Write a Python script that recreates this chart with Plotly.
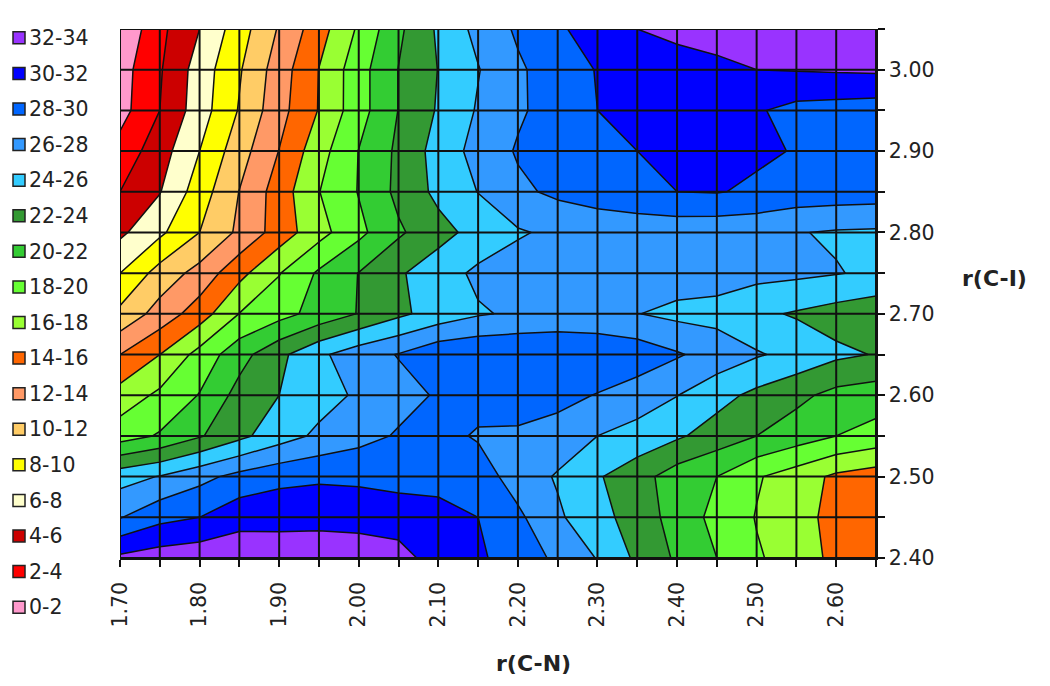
import plotly.graph_objects as go

W, H = 1050, 686

x_vals = [1.70, 1.75, 1.80, 1.85, 1.90, 1.95, 2.00, 2.05, 2.10, 2.15,
          2.20, 2.25, 2.30, 2.35, 2.40, 2.45, 2.50, 2.55, 2.60, 2.65]
y_vals = [2.40, 2.45, 2.50, 2.55, 2.60, 2.65, 2.70, 2.75, 2.80, 2.85, 2.90, 2.95, 3.00, 3.05]

z_240 = [32.4,33.0,33.3,33.3,33.1,33.4,33.7,33.1,30.7,30.3,29.1,27.6,25.9,23.6,21.7,20.0,18.2,17.2,15.4,15.3]
z_245 = [27.9,29.4,30.0,31.3,31.4,31.3,30.9,30.6,30.3,30.0,28.4,26.3,24.7,23.1,21.2,19.4,17.9,16.7,15.4,15.3]
z_250 = [25.2,26.1,27.4,28.6,29.4,29.7,29.7,29.6,29.7,29.0,27.1,25.8,24.2,22.8,21.0,20.0,18.2,17.0,15.6,15.0]
z_255 = [19.1,20.2,21.8,23.5,25.1,26.4,27.3,28.2,28.6,27.8,27.7,27.2,26.0,25.3,24.3,23.1,22.0,21.0,20.0,19.25]
z_260 = [16.8,18.4,20.1,22.7,24.0,25.2,26.3,27.3,28.2,28.7,28.9,28.6,27.9,27.0,26.05,24.7,23.5,22.5,21.4,21.0]
z_265 = [14.0,16.0,18.7,21.25,23.5,25.6,27.1,28.1,29.5,29.8,29.8,29.8,29.6,29.2,28.2,27.2,26.2,25.4,24.4,23.9]
z_270 = [10.5,12.8,15.0,18.05,19.3,20.7,22.1,23.6,24.8,25.8,26.3,26.6,26.5,26.05,25.5,25.3,24.4,23.8,23.2,22.7]
z_275 = [8.0,10.8,12.7,15.4,17.9,20.3,22.05,23.75,25.1,26.4,26.9,27.0,27.0,27.0,27.0,26.9,26.6,26.4,26.1,25.66]
z_280 = [5.6,7.6,10.0,12.4,14.9,17.3,19.5,21.7,23.3,24.7,25.8,26.4,26.6,26.7,26.7,26.6,26.5,26.1,25.8,25.7]
z_285 = [4.0,5.9,9.0,12.05,14.95,17.95,20.1,22.5,24.5,26.05,27.6,28.4,29.0,29.5,30.0,30.1,29.7,29.2,29.1,29.0]
z_290 = [2.74,5.1,8.0,11.15,14.05,17.2,20.05,22.4,24.8,26.7,28.2,28.7,29.4,30.0,30.6,30.7,30.3,29.9,29.3,29.2]
z_295 = [1.24,4.0,7.05,10.15,13.3,16.1,19.2,22.05,24.2,26.2,27.7,28.9,30.0,30.3,30.5,30.5,30.2,29.4,29.2,29.0]
z_300 = [1.13,3.8,6.9,9.8,13.0,16.05,19.2,22.05,24.05,25.9,27.7,29.0,30.1,30.6,31.0,31.5,32.0,32.1,32.2,32.3]
z_305 = [0.2,3.5,6.0,9.1,12.2,15.15,18.3,21.6,24.3,26.6,28.3,29.7,30.9,32.0,32.6,32.9,33.0,33.2,33.3,33.3]

band_labels = ["0-2", "2-4", "4-6", "6-8", "8-10", "10-12", "12-14", "14-16", "16-18",
               "18-20", "20-22", "22-24", "24-26", "26-28", "28-30", "30-32", "32-34"]
band_colors = ["#FF99CC", "#FF0000", "#CC0000", "#FFFFCC", "#FFFF00", "#FFCC66", "#FF9966", "#FF6600", "#99FF33",
               "#66FF33", "#33CC33", "#339933", "#33CCFF", "#3399FF", "#0066FF", "#0000FF", "#9933FF"]

x_ticktext = ["1.70", "", "1.80", "", "1.90", "", "2.00", "", "2.10", "",
              "2.20", "", "2.30", "", "2.40", "", "2.50", "", "2.60", ""]
y_ticktext = ["2.40", "", "2.50", "", "2.60", "", "2.70", "", "2.80", "", "2.90", "", "3.00", ""]

z = [z_240, z_245, z_250, z_255, z_260, z_265, z_270, z_275, z_280, z_285, z_290, z_295, z_300, z_305]

FONT = "DejaVu Sans"
INK = "#222222"

fig = go.Figure()

n = len(band_colors) - 1
fig.add_trace(go.Contour(
    x=x_vals, y=y_vals, z=z,
    contours=dict(start=2, end=32, size=2, coloring="fill", showlines=True),
    colorscale=[[i / n, c] for i, c in enumerate(band_colors)],
    line=dict(color="#111111", width=1.5, smoothing=0),
    showscale=False, hoverinfo="skip",
))

# grid drawn on top of the filled contours, as in the reference
gx, gy = [], []
for xv in x_vals:
    gx += [xv, xv, None]
    gy += [y_vals[0], y_vals[-1], None]
for yv in y_vals:
    gx += [x_vals[0], x_vals[-1], None]
    gy += [yv, yv, None]
fig.add_trace(go.Scatter(x=gx, y=gy, mode="lines", line=dict(color="#111111", width=2),
                         hoverinfo="skip", showlegend=False, cliponaxis=False))

# key at the left
fig.add_trace(go.Scatter(
    x=[0] * len(band_labels), y=band_labels, mode="markers", xaxis="x2", yaxis="y2",
    marker=dict(symbol="square", size=12, color=band_colors, line=dict(color="#222222", width=1.5)),
    hoverinfo="skip", showlegend=False,
))

# the page body adds an 8 px margin around the figure
px = lambda v: (v - 8) / W
py = lambda v: 1 - (v - 8) / H

fig.update_layout(
    width=W, height=H, autosize=False,
    margin=dict(l=0, r=0, t=0, b=0, autoexpand=False),
    paper_bgcolor="white", plot_bgcolor="white",
    font=dict(family=FONT, color=INK, size=20),
    xaxis=dict(domain=[px(120), px(876)], range=[1.70, 2.65], anchor="y",
               tickmode="array", tickvals=x_vals, ticktext=x_ticktext,
               tickangle=-90, ticks="outside", ticklen=7, tickwidth=1.5, tickcolor="#111111",
               ticklabelstandoff=7,
               tickfont=dict(size=20.5), showgrid=False, zeroline=False,
               showline=True, linecolor="#111111", linewidth=1.5),
    yaxis=dict(domain=[py(558), py(29)], range=[2.40, 3.05], anchor="x", side="right",
               tickmode="array", tickvals=y_vals, ticktext=y_ticktext,
               ticks="outside", ticklen=7, tickwidth=1.5, tickcolor="#111111",
               tickfont=dict(size=20.5), showgrid=False, zeroline=False,
               showline=True, linecolor="#111111", linewidth=1.5),
    xaxis2=dict(domain=[px(10), px(28)], range=[-1, 1], anchor="y2", visible=False, fixedrange=True),
    yaxis2=dict(domain=[py(625), py(20)], range=[-0.5, 16.5], anchor="x2", side="right", type="category",
                categoryorder="array", categoryarray=band_labels,
                showgrid=False, zeroline=False, showline=False, ticks="",
                tickfont=dict(size=20.5), fixedrange=True),
    annotations=[
        dict(text="<b>r(C-I)</b>", x=px(994), y=py(278), xref="paper", yref="paper",
             xanchor="center", yanchor="middle", showarrow=False,
             font=dict(size=22, family=FONT, color=INK)),
        dict(text="<b>r(C-N)</b>", x=px(533), y=py(663), xref="paper", yref="paper",
             xanchor="center", yanchor="middle", showarrow=False,
             font=dict(size=22, family=FONT, color=INK)),
    ],
)

fig.write_html("out.html")
